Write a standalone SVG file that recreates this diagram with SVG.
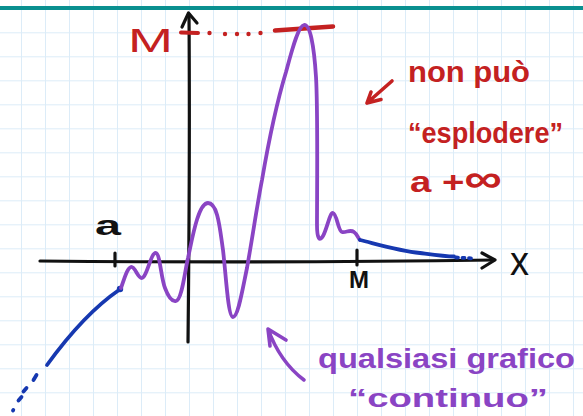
<svg xmlns="http://www.w3.org/2000/svg" width="583" height="416" viewBox="0 0 583 416">
<defs>
<pattern id="grid" x="21" y="8.3" width="24" height="24" patternUnits="userSpaceOnUse">
<path d="M0,0 V24 M0,0 H24" fill="none" stroke="#dcecf8" stroke-width="2"/>
</pattern>
<style>
.ink{fill:none;stroke-linecap:round;stroke-linejoin:round}
.blk{stroke:#111;stroke-width:3.2}
.red{stroke:#c42121}
.pur{stroke:#8a44c4;stroke-width:3.8}
.blu{stroke:#1638b0;stroke-width:3.8}
.t{font-family:"Liberation Sans","DejaVu Sans",sans-serif;font-weight:bold}
</style>
</defs>
<rect width="583" height="416" fill="#ffffff"/>
<rect width="583" height="416" fill="url(#grid)"/>
<line x1="0" y1="8" x2="583" y2="8" stroke="#0a9090" stroke-width="4"/>

<g id="connectors">
<g id="x-axis">
<path class="ink blk" d="M40,261 C150,262 300,263 494,260"/>
<path class="ink blk" d="M482,253 L495,260 L482,268"/>
<line class="ink blk" x1="115" y1="253" x2="115" y2="266"/>
<line class="ink blk" x1="357" y1="250" x2="357" y2="265"/>
</g>
<g id="y-axis">
<path class="ink blk" d="M188,342 C189,250 190,150 189,14"/>
<path class="ink blk" d="M182,27 L188.5,13 L197,23"/>
</g>
<g id="sup-line">
<line class="ink red" stroke-width="4" x1="181" y1="32.5" x2="198" y2="33"/>
<g fill="#c42121">
<circle cx="209.5" cy="33" r="2.2"/><circle cx="225" cy="34" r="2.2"/><circle cx="237" cy="34" r="2.2"/><circle cx="248.5" cy="34" r="2.2"/><circle cx="260.5" cy="33" r="2.2"/>
</g>
<path class="ink red" stroke-width="4.5" d="M275,30.5 L333,26.5"/>
</g>
<g id="red-arrow">
<path class="ink red" stroke-width="3.6" d="M392,81 L367,103 M371,92 L367,103 L381,99.5"/>
</g>
<g id="purple-arrow">
<path class="ink" stroke="#8a44c4" stroke-width="3.6" d="M304,380 Q280,362 268,329 M270,346 L268,329 L286,340"/>
</g>
</g>

<g id="graph-left">
<path class="ink blu" d="M119,290 Q84,314 47,365"/>
<circle cx="120" cy="289" r="3.2" fill="#1638b0"/>
<path class="ink blu" d="M36.5,375 L33.5,380 M26.5,388 L23.5,391.5 M21.5,397 L18.5,400.5 M13.3,410 L13,410.5"/>
</g>
<g id="graph-middle">
<path class="ink pur" d="M121,288 C124,280 127,268 131,267 C135,266 138,279 142,278 C147,277 151,252 156,253 C160,254 161,278 165,288 C168,296 172,302 176,301 C182,300 185,270 188,258 C192,240 198,203 208,203 C218,203 220,230 223,250 C226,275 228,317 233,317 C238,317 242,292 247,268 C252,240 258,200 262,180 C268,145 276,105 286,72 C292,50 298,26 304,25 C310,24 314,45 316,77 C318,110 317,190 317,225 C317,240 320,241 323,236 C327,229 330,212 333,213 C337,214 338,231 342,232 C346,233 350,229 354,232 C357,234 358,238 360,240"/>
</g>
<g id="graph-right">
<path class="ink blu" d="M360,240 C380,245 400,251 420,253 C435,255 445,256.5 454,256.5"/>
<path class="ink blu" stroke-dasharray="2 4.5" d="M456,257.5 L475,258.5"/>
</g>

<g id="label-M-red"><text x="128" y="52" font-family="Liberation Sans, sans-serif" font-size="33" fill="#c42121" textLength="45" lengthAdjust="spacingAndGlyphs">M</text></g>
<g id="label-a"><text class="t" x="95" y="235" font-size="27" fill="#111" textLength="26" lengthAdjust="spacingAndGlyphs">a</text></g>
<g id="label-M"><text class="t" x="349" y="288" font-size="24" fill="#111" textLength="20" lengthAdjust="spacingAndGlyphs">M</text></g>
<g id="label-x"><text x="510" y="275" font-family="Liberation Sans, sans-serif" font-size="40" fill="#111" textLength="19" lengthAdjust="spacingAndGlyphs">x</text></g>

<g id="note-red" fill="#c42121">
<text class="t" x="408" y="82" font-size="29" textLength="122" lengthAdjust="spacingAndGlyphs">non può</text>
<text class="t" x="408" y="143" font-size="29" textLength="155" lengthAdjust="spacingAndGlyphs">“esplodere”</text>
<text class="t" x="410" y="192" font-size="29" textLength="92" lengthAdjust="spacingAndGlyphs">a +<tspan font-size="40">∞</tspan></text>
</g>
<g id="note-purple" fill="#8a44c4">
<text class="t" x="318" y="368" font-size="28" textLength="257" lengthAdjust="spacingAndGlyphs">qualsiasi grafico</text>
<text class="t" x="348" y="407" font-size="26" textLength="200" lengthAdjust="spacingAndGlyphs">“continuo”</text>
</g>
</svg>
